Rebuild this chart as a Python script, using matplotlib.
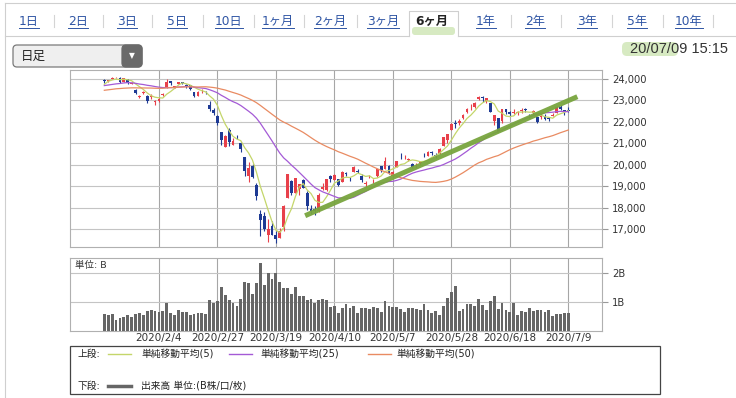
import matplotlib
matplotlib.use('Agg')
import matplotlib.pyplot as plt
import numpy as np
import pandas as pd
from matplotlib.patches import Rectangle, FancyBboxPatch

plt.rcParams['font.family'] = ['DejaVu Sans', 'Noto Sans CJK JP']

# ------------------------------------------------------------------ data
trade_days = {
    1: [15, 16, 17, 20, 21, 22, 23, 24, 27, 28, 29, 30, 31],
    2: [3, 4, 5, 6, 7, 10, 12, 13, 14, 17, 18, 19, 20, 21, 25, 26, 27, 28],
    3: [2, 3, 4, 5, 6, 9, 10, 11, 12, 13, 16, 17, 18, 19, 23, 24, 25, 26, 27, 30, 31],
    4: [1, 2, 3, 6, 7, 8, 9, 10, 13, 14, 15, 16, 17, 20, 21, 22, 23, 24, 27, 28, 30],
    5: [1, 7, 8, 11, 12, 13, 14, 15, 18, 19, 20, 21, 22, 25, 26, 27, 28, 29],
    6: [1, 2, 3, 4, 5, 8, 9, 10, 11, 12, 15, 16, 17, 18, 19, 22, 23, 24, 25, 26, 29, 30],
    7: [1, 2, 3, 6, 7, 8, 9],
}
dates = [f"2020/{m}/{d}" for m, days in trade_days.items() for d in days]

opens = [23917, 23905, 24000, 24080, 24054, 23876, 23977, 23790, 23485, 23183,
         23330, 23211, 23155, 22929, 22966, 23245, 23593, 23897, 23620, 23780,
         23832, 23730, 23702, 23389, 23218, 23465, 23409, 22796, 22545, 22260,
         21520, 20849, 21603, 20897, 21363, 21009, 20343, 19474, 19961, 19064,
         17683, 17586, 16719, 17154, 16726, 16570, 17091, 18446, 19234, 18688,
         18884, 19302, 18686, 17934, 17951, 17857, 18878, 18831, 19466, 19290,
         19316, 19193, 19630, 19306, 19670, 19719, 19457, 19093, 19412, 19221,
         19491, 19920, 19808, 19933, 19468, 19895, 20402, 20345, 20225, 20011,
         20031, 20083, 20463, 20422, 20594, 20475, 20515, 20857, 21164, 21600,
         21958, 21930, 22173, 22473, 22683, 22713, 23047, 23164, 22977, 22900,
         22020, 22165, 22032, 22600, 22455, 22392, 22394, 22521, 22621, 22287,
         22412, 22213, 22212, 22279, 22167, 22292, 22416, 22708, 22532, 22561]
highs = [23985, 23957, 24116, 24115, 24103, 24031, 23978, 23876, 23518, 23258,
         23441, 23262, 23280, 23009, 23181, 23347, 23995, 23902, 23690, 23875,
         23860, 23745, 23713, 23416, 23442, 23548, 23427, 22950, 22667, 22307,
         21524, 21375, 21719, 21245, 21399, 21061, 20347, 20123, 20018, 19153,
         17884, 17785, 17455, 17350, 16908, 17049, 18105, 19564, 19270, 19389,
         19084, 19336, 18784, 18132, 18059, 18672, 19162, 19353, 19527, 19570,
         19316, 19706, 19652, 19442, 19922, 19799, 19561, 19255, 19507, 19326,
         19820, 19933, 20365, 19979, 19689, 20195, 20534, 20462, 20312, 20078,
         20067, 20194, 20555, 20622, 20652, 20553, 20775, 21271, 21434, 21954,
         22088, 22112, 22384, 22650, 22814, 22907, 23185, 23185, 23130, 22900,
         22333, 22181, 22582, 22613, 22484, 22594, 22519, 22640, 22666, 22345,
         22568, 22228, 22394, 22380, 22214, 22395, 22724, 22779, 22564, 22677]
lows = [23822, 23843, 23995, 24044, 23819, 23850, 23751, 23745, 23291, 23115,
        23283, 22892, 23080, 22775, 22919, 23193, 23575, 23708, 23592, 23750,
        23749, 23597, 23488, 23150, 23186, 23363, 23298, 22516, 22304, 21860,
        20916, 20834, 20879, 20897, 21211, 20613, 19474, 19206, 19364, 18339,
        16690, 16914, 16378, 16727, 16358, 16570, 16928, 18446, 18576, 18688,
        18578, 18917, 17871, 17707, 17646, 17802, 18831, 18765, 19200, 19290,
        18986, 19193, 19483, 19230, 19637, 19593, 19214, 18966, 19359, 19148,
        19440, 19677, 19794, 19561, 19448, 19880, 20282, 20278, 20188, 19831,
        19862, 19968, 20351, 20416, 20476, 20330, 20481, 20852, 21027, 21598,
        21702, 21841, 22127, 22436, 22571, 22650, 22999, 22910, 22890, 22451,
        21875, 21530, 21969, 22380, 22282, 22362, 22303, 22420, 22473, 22186,
        22334, 21963, 22153, 22088, 22061, 22279, 22416, 22564, 22332, 22464]
closes = [23916, 23933, 24041, 24083, 23864, 24031, 23795, 23827, 23343, 23216,
          23379, 22977, 23205, 22972, 23084, 23320, 23873, 23828, 23686, 23861,
          23827, 23688, 23523, 23194, 23400, 23479, 23387, 22605, 22426, 21948,
          21142, 21344, 21082, 21100, 21329, 20749, 19698, 19867, 19416, 18559,
          17431, 17002, 17011, 16726, 16552, 16887, 18092, 19546, 18664, 19389,
          19084, 18917, 18065, 17818, 17820, 18576, 18950, 19353, 19345, 19498,
          19043, 19638, 19550, 19290, 19897, 19669, 19280, 19137, 19429, 19262,
          19783, 19771, 20193, 19619, 19674, 20179, 20390, 20366, 20267, 19914,
          20037, 20133, 20433, 20595, 20552, 20388, 20741, 21271, 21419, 21916,
          21877, 22062, 22325, 22613, 22695, 22863, 23178, 23091, 23124, 22472,
          22305, 21530, 22582, 22455, 22355, 22478, 22437, 22549, 22534, 22259,
          22512, 21995, 22288, 22122, 22145, 22306, 22714, 22614, 22438, 22529]
# closes before the first candle, used only for the moving averages
pre_closes = [22843, 22927, 22851, 23251, 23303, 23330, 23392, 23331, 23520, 23320,
              23141, 23303, 23417, 23293, 23148, 23038, 23113, 23292, 23373, 23437,
              23409, 23293, 23529, 23379, 23135, 23300, 23354, 23430, 23410, 23391,
              23424, 24023, 23952, 24066, 23934, 23864, 23816, 23821, 23830, 23782,
              23924, 23837, 23657, 23204, 23575, 23204, 23739, 23850, 24025]
volumes = [0.58, 0.56, 0.58, 0.39, 0.47, 0.50, 0.55, 0.49, 0.60, 0.64,
           0.56, 0.70, 0.73, 0.69, 0.67, 0.70, 0.97, 0.64, 0.55, 0.73,
           0.65, 0.67, 0.55, 0.59, 0.61, 0.63, 0.59, 1.06, 0.98, 1.05,
           1.50, 1.24, 1.06, 0.98, 0.86, 1.11, 1.69, 1.65, 1.27, 1.65,
           2.34, 1.59, 2.00, 1.78, 2.00, 1.69, 1.47, 1.47, 1.27, 1.50,
           1.22, 1.22, 1.07, 1.09, 0.98, 1.07, 1.09, 1.06, 0.84, 0.86,
           0.64, 0.81, 0.92, 0.81, 0.86, 0.64, 0.81, 0.78, 0.75, 0.84,
           0.78, 0.67, 1.03, 0.86, 0.84, 0.84, 0.76, 0.67, 0.81, 0.78,
           0.75, 0.72, 0.93, 0.72, 0.61, 0.69, 0.55, 0.86, 1.13, 1.34,
           1.53, 0.70, 0.76, 0.93, 0.92, 0.86, 1.09, 0.90, 0.73, 1.05,
           1.22, 0.77, 0.98, 0.72, 0.65, 0.98, 0.55, 0.70, 0.67, 0.81,
           0.68, 0.73, 0.73, 0.67, 0.73, 0.52, 0.58, 0.60, 0.64, 0.64]
tick_labels = ['2020/2/4', '2020/2/27', '2020/3/19', '2020/4/10',
               '2020/5/7', '2020/5/28', '2020/6/18', '2020/7/9']
price_ticks = [17000, 18000, 19000, 20000, 21000, 22000, 23000, 24000]
ma_windows = [5, 25, 50]
ma_labels = ['単純移動平均(5)', '単純移動平均(25)', '単純移動平均(50)']
trend_x = [51.5, 121.3]          # hand-drawn trend line (candle index)
trend_y = [17620, 23175]         # price
tabs = ['1日', '2日', '3日', '5日', '10日', '1ヶ月', '2ヶ月', '3ヶ月', '6ヶ月',
        '1年', '2年', '3年', '5年', '10年']
selected_tab = '6ヶ月'
timestamp_date, timestamp_time = '20/07/09', '15:15'

# ------------------------------------------------------------------ style
UP, DOWN = '#e8404a', '#1e3a94'
MA_COLORS = ['#c4d66a', '#a45ad6', '#e98b62']
VOL_COLOR = '#666666'
TREND_COLOR = '#78a53e'

W, H = 736, 398
fig = plt.figure(figsize=(W / 100, H / 100), dpi=100)
fig.patch.set_facecolor('white')


def fbox(x0, y0, x1, y1):
    return [x0 / W, 1 - y1 / H, (x1 - x0) / W, (y1 - y0) / H]


# overlay in pixel coordinates for the page decoration
ov = fig.add_axes([0, 0, 1, 1])
ov.set_xlim(0, W)
ov.set_ylim(H, 0)
ov.axis('off')

ax = fig.add_axes(fbox(70, 70, 602.3, 247))
axv = fig.add_axes(fbox(70, 257.7, 602.3, 331.3))

n = len(closes)
x = np.arange(n)
o = np.array(opens, float)
h = np.array(highs, float)
l = np.array(lows, float)
c = np.array(closes, float)
cols = np.where(c >= o, UP, DOWN)

# ---- price panel
ax.vlines(x, l, h, colors=cols, lw=0.8, zorder=3)
ax.bar(x, np.maximum(np.abs(c - o), 18), bottom=np.minimum(o, c), width=0.72,
       color=cols, lw=0, zorder=3)
series = pd.Series(pre_closes + closes, dtype=float)
for w, col in zip(ma_windows, MA_COLORS):
    ma = series.rolling(w).mean().iloc[len(pre_closes):].to_numpy()
    ax.plot(x, ma, color=col, lw=0.9, zorder=4)
ax.plot(trend_x, trend_y, color=TREND_COLOR, lw=3.6, solid_capstyle='butt',
        zorder=5, alpha=0.95)

tick_pos = [dates.index(t) for t in tick_labels]
ax.set_xlim(-8.8, 127.7)
ax.set_ylim(16160, 24420)
ax.set_xticks(tick_pos)
ax.set_yticks(price_ticks)
ax.set_yticklabels([f'{v:,}' for v in price_ticks])
ax.yaxis.tick_right()
ax.tick_params(axis='y', length=4, width=0.8, color='#999999', labelsize=7.2,
               labelcolor='#333333', pad=3)
ax.tick_params(axis='x', length=0, labelbottom=False)
ax.grid(axis='y', color='#c4c4c4', lw=0.8)
ax.grid(axis='x', color='#a6a6a6', lw=0.8)
ax.set_axisbelow(True)
for s in ax.spines.values():
    s.set_color('#b0b0b0')
    s.set_linewidth(0.8)

# ---- volume panel
axv.bar(x, volumes, width=0.72, color=VOL_COLOR, lw=0, zorder=3)
axv.set_xlim(-8.8, 127.7)
axv.set_ylim(0, 2.51)
axv.set_xticks(tick_pos)
axv.set_xticklabels(tick_labels)
axv.set_yticks([1, 2])
axv.set_yticklabels(['1B', '2B'])
axv.yaxis.tick_right()
axv.tick_params(axis='y', length=4, width=0.8, color='#999999', labelsize=7.2,
                labelcolor='#333333', pad=3)
axv.tick_params(axis='x', length=0, labelsize=7.5, labelcolor='#333333', pad=1.5)
axv.grid(axis='y', color='#c4c4c4', lw=0.8)
axv.grid(axis='x', color='#a6a6a6', lw=0.8)
axv.set_axisbelow(True)
for s in axv.spines.values():
    s.set_color('#b0b0b0')
    s.set_linewidth(0.8)
axv.text(0.01, 0.9, '単位: B', transform=axv.transAxes, fontsize=6.8,
         color='#333333', va='center', ha='left')

# ---- header: tabs
ov.plot([5, W], [3, 3], color='#cfcfcf', lw=0.8)
ov.plot([5, 5], [3, H], color='#cfcfcf', lw=0.8)
tab_x = [29, 78, 127, 177, 229, 278, 330, 383, 432, 486, 535, 587, 637, 689]
sel = tabs.index(selected_tab)
ov.plot([5, 409], [36, 36], color='#cfcfcf', lw=0.8)
ov.plot([458, W], [36, 36], color='#cfcfcf', lw=0.8)
ov.plot([409, 409, 458, 458], [36, 11, 11, 36], color='#cfcfcf', lw=0.8)
ov.add_patch(FancyBboxPatch((412, 27), 43, 8, boxstyle='round,pad=0,rounding_size=3',
                            facecolor='#d7eac2', edgecolor='none'))
fig.canvas.draw()
rend = fig.canvas.get_renderer()
for i, (t, tx) in enumerate(zip(tabs, tab_x)):
    if i == sel:
        ov.text(tx, 21, t, fontsize=8.8, fontweight='bold', color='#222222',
                ha='center', va='center')
    else:
        tt = ov.text(tx, 21, t, fontsize=8.8, color='#2f55a4', ha='center', va='center')
        bb = tt.get_window_extent(rend)
        ov.plot([bb.x0, bb.x1], [28, 28], color='#2f55a4', lw=0.7)
    if i < len(tabs) - 1 and i != sel and i + 1 != sel:
        mx = (tx + tab_x[i + 1]) / 2
        ov.plot([mx, mx], [15, 27], color='#d4d4d4', lw=0.8)
mx = tab_x[-1] + 24
ov.plot([mx, mx], [15, 27], color='#d4d4d4', lw=0.8)

# dropdown
ov.add_patch(FancyBboxPatch((13, 45), 129, 22, boxstyle='round,pad=0,rounding_size=4',
                            facecolor='#efefef', edgecolor='#7a7a7a', lw=0.9))
ov.add_patch(FancyBboxPatch((122, 45), 20, 22, boxstyle='round,pad=0,rounding_size=4',
                            facecolor='#6a6a6a', edgecolor='#6a6a6a', lw=0.9))
ov.text(132, 55.5, '▼', fontsize=5.5, color='white', ha='center', va='center')
ov.text(21, 56, '日足', fontsize=9, color='#222222', ha='left', va='center')

# timestamp
ov.add_patch(FancyBboxPatch((622, 42), 56, 14, boxstyle='round,pad=0,rounding_size=5',
                            facecolor='#d7eac2', edgecolor='none'))
ov.text(728, 49, f'{timestamp_date} {timestamp_time}', fontsize=10.5,
        family=['Liberation Sans', 'DejaVu Sans'], color='#333333',
        ha='right', va='center')

# ---- legend box
ov.add_patch(Rectangle((69.5, 345.5), 590, 48, facecolor='white',
                       edgecolor='#444444', lw=0.9))
ov.text(78, 354, '上段:', fontsize=7, color='#222222', ha='left', va='center')
leg_line_x = [(108, 131), (229, 252), (368, 391)]
leg_text_x = [141, 260, 396]
for (a, b), tx, col, lab in zip(leg_line_x, leg_text_x, MA_COLORS, ma_labels):
    ov.plot([a, b], [354, 354], color=col, lw=1.0)
    ov.text(tx, 354, lab, fontsize=7, color='#222222', ha='left', va='center')
ov.text(78, 386, '下段:', fontsize=7, color='#222222', ha='left', va='center')
ov.plot([108, 131], [386, 386], color=VOL_COLOR, lw=2.5)
ov.text(141, 386, '出来高 単位:(B株/口/枚)', fontsize=7, color='#222222',
        ha='left', va='center')

fig.savefig('out.png', dpi=100)
